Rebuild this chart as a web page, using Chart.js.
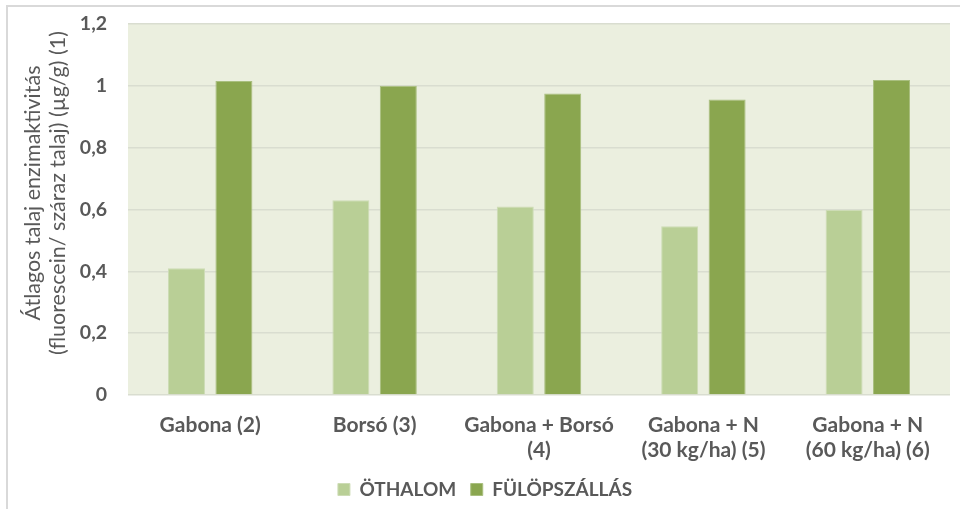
<!DOCTYPE html>
<html lang="hu">
<head>
<meta charset="utf-8">
<title>Átlagos talaj enzimaktivitás</title>
<script src="https://cdn.jsdelivr.net/npm/chart.js@4.4.1/dist/chart.umd.min.js"></script>
<style>
  html, body { margin: 0; padding: 0; background: #ffffff; }
  #wrap { position: relative; width: 960px; height: 509px; overflow: hidden; }
  #frame {
    position: absolute; left: 6px; top: 5px; right: -4px; bottom: -4px;
    border-left: 2px solid #d9d9d9; border-top: 2px solid #d9d9d9;
    pointer-events: none;
  }
  canvas { display: block; }
</style>
</head>
<body>
<div id="wrap">
  <canvas id="chart" width="960" height="509"></canvas>
  <div id="frame"></div>
</div>
<script>
// Kezelések (x tengely), többsoros címkékkel
const categories = [
  'Gabona (2)',
  'Borsó (3)',
  ['Gabona + Borsó', '(4)'],
  ['Gabona + N', '(30 kg/ha) (5)'],
  ['Gabona + N', '(60 kg/ha) (6)']
];

// Sorozatnevek
const seriesNames = ['ÖTHALOM', 'FÜLÖPSZÁLLÁS'];

// Átlagos enzimaktivitás (µg/g) helyszínenként
const othalomValues = [0.41, 0.63, 0.61, 0.546, 0.598];
const fulopszallasValues = [1.016, 1.0, 0.975, 0.956, 1.019];

// Y tengely beosztása
const yTicks = [0, 0.2, 0.4, 0.6, 0.8, 1.0, 1.2];

// Tengelycím két sorban
const yTitleLines = ['Átlagos talaj enzimaktivitás', '(fluorescein/ száraz talaj) (µg/g) (1)'];

const textColor = '#595959';
const fontFamily = 'Lato, "Open Sans", "DejaVu Sans", sans-serif';

// Halvány zöld háttér a rajzterület mögött
const plotBackground = {
  id: 'plotBackground',
  beforeDraw(chart) {
    const { ctx, chartArea: a } = chart;
    ctx.save();
    ctx.fillStyle = '#ebefdf';
    ctx.fillRect(a.left, a.top, a.right - a.left, a.bottom - a.top);
    ctx.restore();
  }
};

// Elforgatott, kétsoros y tengelycím
const yTitle = {
  id: 'yTitle',
  afterDraw(chart) {
    const { ctx } = chart;
    ctx.save();
    ctx.translate(46, 193);
    ctx.rotate(-Math.PI / 2);
    ctx.fillStyle = textColor;
    ctx.font = '21.5px ' + fontFamily;
    ctx.textAlign = 'center';
    ctx.textBaseline = 'middle';
    ctx.fillText(yTitleLines[0], 0, -12.5);
    ctx.fillText(yTitleLines[1], 0, 12.5);
    ctx.restore();
  }
};

// A jelmagyarázat kissé jobbra tolva
const legendShift = {
  id: 'legendShift',
  afterLayout(chart) {
    if (chart.legend) chart.legend.left += 20;
  }
};

new Chart(document.getElementById('chart'), {
  type: 'bar',
  data: {
    labels: categories,
    datasets: [
      {
        label: seriesNames[0],
        data: othalomValues,
        backgroundColor: '#b9cf96',
        borderColor: '#cddcb5',
        borderWidth: 1
      },
      {
        label: seriesNames[1],
        data: fulopszallasValues,
        backgroundColor: '#8aa64f',
        borderColor: '#a9bf7f',
        borderWidth: 1
      }
    ]
  },
  options: {
    responsive: false,
    animation: false,
    devicePixelRatio: 1,
    layout: { padding: { left: 0, top: 24, right: 10, bottom: 0 } },
    datasets: {
      bar: { categoryPercentage: 0.577, barPercentage: 0.78 }
    },
    scales: {
      x: {
        grid: { display: false },
        border: { display: false },
        ticks: {
          color: textColor,
          font: { family: fontFamily, size: 21, weight: 'bold', lineHeight: 1.18 },
          padding: 10,
          maxRotation: 0,
          autoSkip: false
        },
        afterFit(scale) { scale.height = 70.5; }
      },
      y: {
        min: 0,
        max: 1.2,
        afterBuildTicks(scale) { scale.ticks = yTicks.map(v => ({ value: v })); },
        grid: { color: '#d9ddd0', lineWidth: 1.5, drawTicks: false },
        border: { display: false },
        ticks: {
          color: textColor,
          font: { family: fontFamily, size: 19.5, weight: 'bold' },
          padding: 21,
          callback: v => String(Math.round(v * 10) / 10).replace('.', ',')
        },
        afterFit(scale) {
          scale.width = 128;
          scale.paddingTop = 0;
          scale.paddingBottom = 0;
        }
      }
    },
    plugins: {
      legend: {
        position: 'bottom',
        labels: {
          color: textColor,
          font: { family: fontFamily, size: 19, weight: 'bold' },
          boxWidth: 12,
          boxHeight: 12,
          padding: 14.5
        }
      },
      tooltip: { enabled: false }
    }
  },
  plugins: [plotBackground, yTitle, legendShift]
});
</script>
</body>
</html>
